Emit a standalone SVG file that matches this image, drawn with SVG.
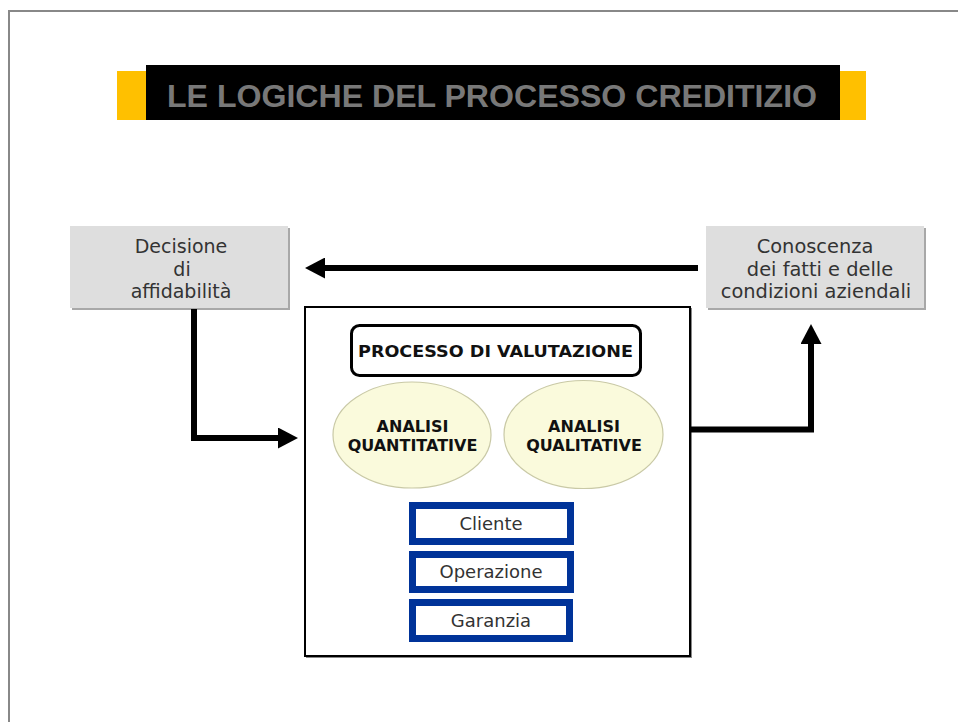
<svg xmlns="http://www.w3.org/2000/svg" width="958" height="722" viewBox="0 0 958 722">
<style>
.t{font-family:"DejaVu Sans",Verdana,sans-serif;fill:#333;text-anchor:middle}
.b{font-family:"DejaVu Sans",Verdana,sans-serif;font-weight:bold;fill:#111;text-anchor:middle}
.gbox{fill:#dedede}
.gsh{fill:#a8a8a8}
.blue{fill:#fff;stroke:#003399;stroke-width:7}
.ell{fill:#fafadc;stroke:#c9c9a6;stroke-width:1.2}
.conn{fill:none;stroke:#000;stroke-width:6}
</style>
<defs>
<marker id="ah" markerUnits="userSpaceOnUse" markerWidth="21" markerHeight="21" viewBox="0 0 20 21" refX="0" refY="10.5" orient="auto">
<path d="M0,0 L20,10.5 L0,21 Z" fill="#000"/>
</marker>
</defs>
<rect width="958" height="722" fill="#fff"/>
<rect x="9" y="11" width="960" height="730" fill="none" stroke="#888" stroke-width="2"/>
<g id="title">
<rect x="117" y="71" width="30" height="49" fill="#ffc000"/>
<rect x="839" y="71" width="27" height="49" fill="#ffc000"/>
<rect x="146" y="65" width="694" height="55" fill="#000"/>
<text x="492" y="107" font-family="'Liberation Sans',Arial,sans-serif" font-weight="bold" font-size="32" fill="#787878" text-anchor="middle" textLength="650" lengthAdjust="spacingAndGlyphs">LE LOGICHE DEL PROCESSO CREDITIZIO</text>
</g>
<g id="decisione">
<rect class="gsh" x="72" y="228" width="218" height="82"/>
<rect class="gbox" x="70" y="226" width="218" height="82"/>
<text class="t" font-size="19" x="181" y="253">Decisione</text>
<text class="t" font-size="19" x="182" y="276">di</text>
<text class="t" font-size="19" x="181" y="298">affidabilità</text>
</g>
<g id="conoscenza">
<rect class="gsh" x="708" y="228" width="218" height="82"/>
<rect class="gbox" x="706" y="226" width="218" height="82"/>
<text class="t" font-size="19.4" x="815" y="253">Conoscenza</text>
<text class="t" font-size="19.4" x="820" y="276">dei fatti e delle</text>
<text class="t" font-size="19.4" x="816" y="298">condizioni aziendali</text>
</g>
<g id="processo">
<rect x="306" y="308" width="386" height="350" fill="#888"/>
<rect x="305" y="307" width="385" height="349" fill="#fff" stroke="#000" stroke-width="2"/>
<g id="valutazione">
<rect x="351.5" y="325.5" width="289" height="50" rx="8" fill="#fff" stroke="#000" stroke-width="3"/>
<text class="b" font-size="16" x="495.5" y="357" textLength="275" lengthAdjust="spacingAndGlyphs">PROCESSO DI VALUTAZIONE</text>
</g>
<g id="quantitative">
<ellipse class="ell" cx="412" cy="435" rx="79" ry="53"/>
<text class="b" font-size="16" x="412.5" y="432">ANALISI</text>
<text class="b" font-size="16" x="412.5" y="451">QUANTITATIVE</text>
</g>
<g id="qualitative">
<ellipse class="ell" cx="583.5" cy="434.5" rx="79.5" ry="54"/>
<text class="b" font-size="16" x="584" y="432">ANALISI</text>
<text class="b" font-size="16" x="584" y="451">QUALITATIVE</text>
</g>
<g id="cliente">
<rect class="blue" x="412.5" y="505.5" width="158" height="36"/>
<text class="t" font-size="18" x="491" y="530">Cliente</text>
</g>
<g id="operazione">
<rect class="blue" x="412.5" y="554.5" width="158" height="35"/>
<text class="t" font-size="18" x="491" y="578">Operazione</text>
</g>
<g id="garanzia">
<rect class="blue" x="412.5" y="602.5" width="157" height="36"/>
<text class="t" font-size="18" x="491" y="627">Garanzia</text>
</g>
</g>
<g id="connectors">
<path class="conn" d="M698,268 H325" marker-end="url(#ah)"/>
<path class="conn" d="M194,309 V438 H278" marker-end="url(#ah)"/>
<path class="conn" d="M691,429.5 H811 V344" marker-end="url(#ah)"/>
</g>
</svg>
